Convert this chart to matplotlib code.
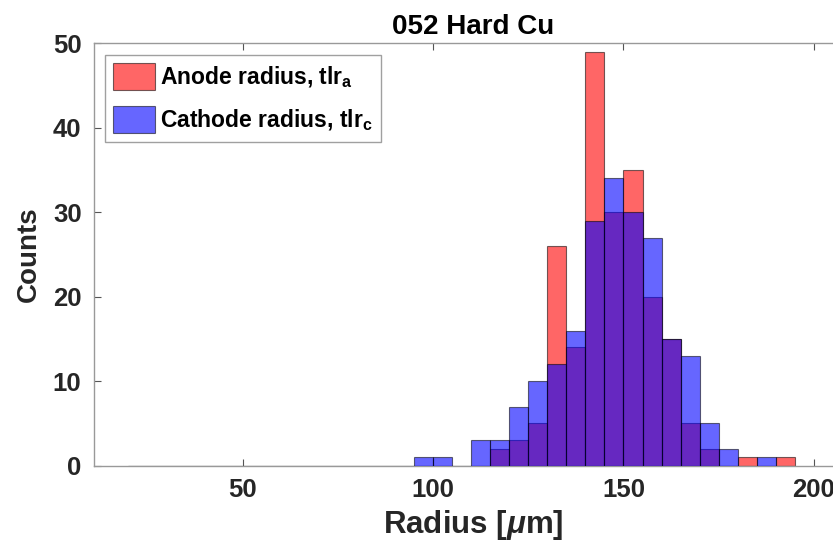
import numpy as np
import matplotlib
matplotlib.use("Agg")
import matplotlib.pyplot as plt

# Data
bin_left = list(range(20, 195, 5))  # bin left edges, width 5
bin_width = 5
anode_counts = [0]*18 + [0, 2, 3, 5, 26, 14, 49, 30, 35, 20, 15, 5, 2, 0, 1, 0, 1]
cathode_counts = [0]*15 + [1, 1, 0, 3, 3, 7, 10, 12, 16, 29, 34, 30, 27, 15, 13, 5, 2, 0, 1, 0]
labels = ["Anode radius, tlr$_\\mathregular{a}$", "Cathode radius, tlr$_\\mathregular{c}$"]
title = "052 Hard Cu"
xlabel = "Radius [$\\mu$m]"
ylabel = "Counts"
xticks = [50, 100, 150, 200]
yticks = [0, 10, 20, 30, 40, 50]

plt.rcParams['font.family'] = ['Liberation Sans', 'DejaVu Sans']
plt.rcParams['font.weight'] = 'bold'
plt.rcParams['mathtext.fontset'] = 'custom'
plt.rcParams['mathtext.rm'] = 'Liberation Sans:bold'
plt.rcParams['mathtext.it'] = 'Liberation Sans:italic:bold'

fig = plt.figure(figsize=(8.33, 5.47), dpi=100)
ax = fig.add_axes([94/833, 1-465.7/547, (852-94)/833, (465.7-43.3)/547])

ax.bar(bin_left, anode_counts, width=bin_width, align='edge',
       color=(1, 0, 0, 0.6), edgecolor=(0, 0, 0, 0.55), linewidth=0.8,
       label=labels[0], zorder=2)
ax.bar(bin_left, cathode_counts, width=bin_width, align='edge',
       color=(0, 0, 1, 0.6), edgecolor=(0, 0, 0, 0.55), linewidth=0.8,
       label=labels[1], zorder=3)

ax.set_xlim(11, 210)
ax.set_ylim(0, 50)
ax.set_xticks(xticks)
ax.set_yticks(yticks)
tc = '#262626'
ax.tick_params(direction='in', length=5, width=0.8, colors='#555555',
               labelcolor=tc, labelsize=18.5, top=True, right=True, pad=9)
for lab in ax.get_xticklabels() + ax.get_yticklabels():
    lab.set_fontweight('bold')
for s in ax.spines.values():
    s.set_color('#999999')
    s.set_linewidth(1.0)

ax.set_title(title, fontsize=20, fontweight='bold', color='black', pad=7)
ax.set_xlabel(xlabel, fontsize=22.5, fontweight='bold', color=tc, labelpad=4)
ax.set_ylabel(ylabel, fontsize=20, fontweight='bold', color=tc, labelpad=8)

leg = ax.legend(loc='upper left', bbox_to_anchor=((105-94)/758, 1-(55-43.3)/422.4),
                fontsize=16.5, frameon=True, fancybox=False, borderaxespad=0,
                handlelength=1.85, handleheight=1.45, handletextpad=0.2,
                borderpad=0.35, labelspacing=0.7)
leg.get_frame().set_edgecolor('#888888')
leg.get_frame().set_linewidth(1.0)
for t in leg.get_texts():
    t.set_fontweight('bold')
    t.set_color('black')

fig.savefig('out.png', dpi=100)
